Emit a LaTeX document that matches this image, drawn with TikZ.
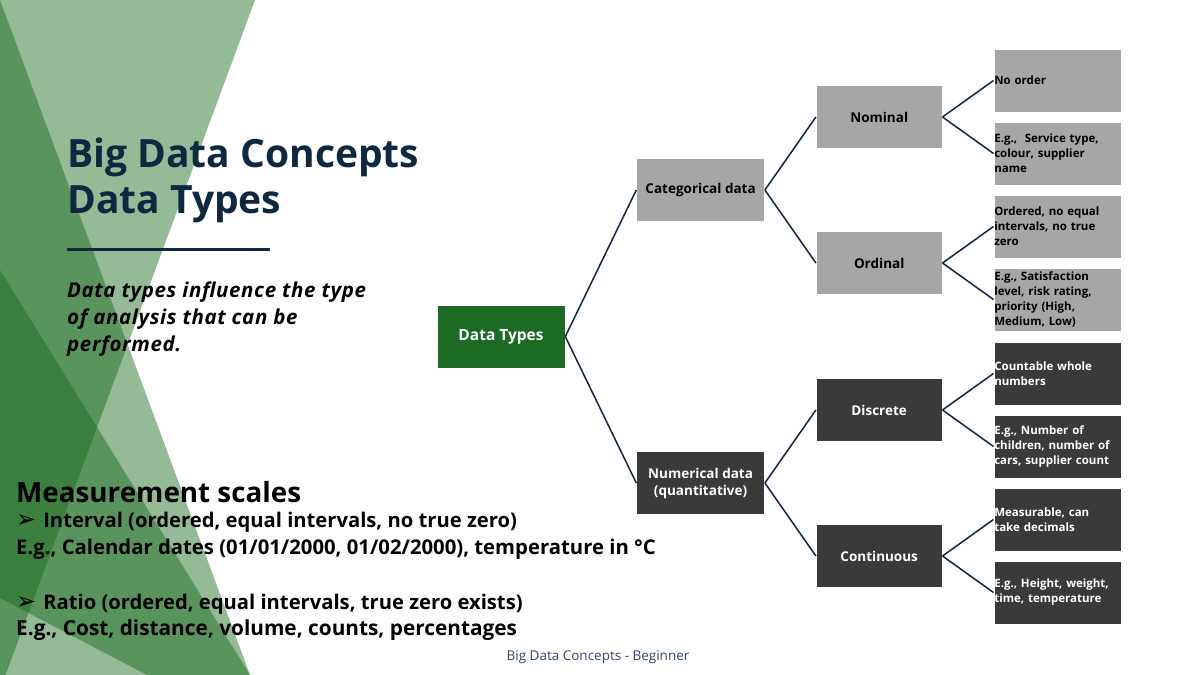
\documentclass[tikz,border=0pt]{standalone}
\usepackage{fontspec}
\setmainfont{Open Sans}
\newfontfamily\symfont{DejaVu Sans}
\usetikzlibrary{positioning}
\definecolor{navy}{RGB}{14,40,65}
\definecolor{facet}{RGB}{23,105,27}
\definecolor{rootgreen}{RGB}{27,107,36}
\definecolor{catgrey}{RGB}{166,166,166}
\definecolor{numdark}{RGB}{58,58,58}
\definecolor{footer}{RGB}{52,72,98}

\begin{document}
\begin{tikzpicture}[x=1pt, y=-1pt,
    box/.style={rectangle, fill=#1, draw=white, line width=0.6pt,
                minimum width=128pt, minimum height=63pt, align=center,
                font=\fontsize{13.5}{17}\selectfont\bfseries},
    box/.default=catgrey,
    leaf/.style={rectangle, fill=#1, draw=white, line width=0.6pt,
                 text width=126pt, inner xsep=0.5pt, minimum height=63pt,
                 align=left, font=\fontsize{11.5}{15}\selectfont\bfseries},
    leaf/.default=catgrey,
    link/.style={navy, line width=1.5pt},
    facetpart/.style={fill=facet, fill opacity=0.46},
    txtline/.style={anchor=base west, inner sep=0pt}
]
\useasboundingbox (0,0) rectangle (1200,675);
\fill[white] (0,0) rectangle (1200,675);

% Facet triangles on the left
\begin{scope}
\clip (0,0) rectangle (1200,675);
\fill[facetpart] (0,0) -- (255,0) -- (0,690) -- cycle;
\fill[facetpart] (0,0) -- (250,675) -- (0,675) -- cycle;
\fill[facetpart] (0,270) -- (250,675) -- (147,675) -- (0,598) -- cycle;
\end{scope}

% Title and notes
\node[txtline, navy, font=\fontsize{39}{48}\selectfont\bfseries] (title1) at (67,167) {Big Data Concepts};
\node[txtline, navy, font=\fontsize{39}{48}\selectfont\bfseries] (title2) at (67,213) {Data Types};
\draw[navy, line width=3pt] (67,249) -- (270,249);
\node[txtline, font=\fontsize{20.5}{27}\selectfont\bfseries\itshape\addfontfeature{LetterSpace=3}] (note1) at (67,297) {Data types influence the type};
\node[txtline, font=\fontsize{20.5}{27}\selectfont\bfseries\itshape\addfontfeature{LetterSpace=3}] (note2) at (67,324) {of analysis that can be};
\node[txtline, font=\fontsize{20.5}{27}\selectfont\bfseries\itshape\addfontfeature{LetterSpace=3}] (note3) at (67,351) {performed.};

% Measurement scales
\node[txtline, font=\fontsize{27.8}{36}\selectfont\bfseries] (scales) at (16,502) {Measurement scales};
\node[txtline, font=\fontsize{20.2}{27}\selectfont\bfseries] (interval) at (16,527) {{\symfont\fontsize{24}{26}\selectfont ➢}\hspace{7pt}Interval (ordered, equal intervals, no true zero)};
\node[txtline, font=\fontsize{20.3}{27}\selectfont\bfseries] (intervaleg) at (16,554) {E.g., Calendar dates (01/01/2000, 01/02/2000), temperature in °C};
\node[txtline, font=\fontsize{20.2}{27}\selectfont\bfseries] (ratio) at (16,609) {{\symfont\fontsize{24}{26}\selectfont ➢}\hspace{7pt}Ratio (ordered, equal intervals, true zero exists)};
\node[txtline, font=\fontsize{20.8}{27}\selectfont\bfseries] (ratioeg) at (16,635) {E.g., Cost, distance, volume, counts, percentages};

% Footer
\node[footer, font=\fontsize{13.5}{17}\selectfont] (foot) at (598,657) {Big Data Concepts - Beginner};

% Tree
\node[box=rootgreen, text=white, font=\fontsize{15.5}{19}\selectfont\bfseries] (dt) at (501,336.5) {Data Types};
\node[box, right=71pt of dt, yshift=146.5pt] (cat) {Categorical data};
\node[box=numdark, text=white, right=71pt of dt, yshift=-146.5pt] (num) {Numerical data\\(quantitative)};

\node[box, minimum width=126pt, right=51pt of cat, yshift=73pt] (nom) {Nominal};
\node[box, minimum width=126pt, right=51pt of cat, yshift=-73pt] (ord) {Ordinal};
\node[box=numdark, text=white, minimum width=126pt, right=51pt of num, yshift=73pt] (dis) {Discrete};
\node[box=numdark, text=white, minimum width=126pt, right=51pt of num, yshift=-73pt] (con) {Continuous};

\node[leaf, right=51pt of nom, yshift=36.5pt] (nom1) {No order};
\node[leaf, right=51pt of nom, yshift=-36.5pt] (nom2) {E.g.,\ \ Service type,\\colour, supplier\\name};
\node[leaf, right=51pt of ord, yshift=36.5pt] (ord1) {Ordered, no equal\\intervals, no true\\zero};
\node[leaf, right=51pt of ord, yshift=-36.5pt] (ord2) {E.g., Satisfaction\\level, risk rating,\\priority (High,\\Medium, Low)};
\node[leaf=numdark, text=white, right=51pt of dis, yshift=36.5pt] (dis1) {Countable whole\\numbers};
\node[leaf=numdark, text=white, right=51pt of dis, yshift=-36.5pt] (dis2) {E.g., Number of\\children, number of\\cars, supplier count};
\node[leaf=numdark, text=white, right=51pt of con, yshift=36.5pt] (con1) {Measurable, can\\take decimals};
\node[leaf=numdark, text=white, right=51pt of con, yshift=-36.5pt] (con2) {E.g., Height, weight,\\time, temperature};

% Links
\draw[link] (dt.east) -- (cat.west);
\draw[link] (dt.east) -- (num.west);
\draw[link] (cat.east) -- (nom.west);
\draw[link] (cat.east) -- (ord.west);
\draw[link] (num.east) -- (dis.west);
\draw[link] (num.east) -- (con.west);
\draw[link] (nom.east) -- (nom1.west);
\draw[link] (nom.east) -- (nom2.west);
\draw[link] (ord.east) -- (ord1.west);
\draw[link] (ord.east) -- (ord2.west);
\draw[link] (dis.east) -- (dis1.west);
\draw[link] (dis.east) -- (dis2.west);
\draw[link] (con.east) -- (con1.west);
\draw[link] (con.east) -- (con2.west);
\end{tikzpicture}
\end{document}
